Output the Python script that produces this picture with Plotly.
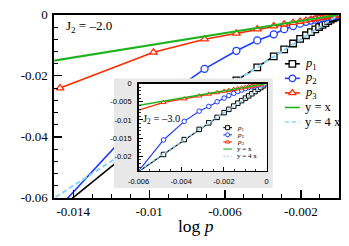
import numpy as np
import plotly.graph_objects as go

W, H = 349, 246

# ---------------- data: main panel (J2 = -2.0) ----------------
LOG_P_MAIN = [-0.0147, -0.00977, -0.00708, -0.0054, -0.0043, -0.00343, -0.00288,
              -0.00241, -0.00204, -0.00173, -0.00147, -0.00124, -0.00104, -0.00086,
              -0.0007, -0.00056, -0.00043, -0.00031, -0.0002, -0.0001, 0.0]
P1_MAIN = [-0.0634, -0.0385, -0.0283, -0.0215, -0.0172, -0.0136, -0.0113,
           -0.0094, -0.0079, -0.0067, -0.0057, -0.0048, -0.0040, -0.0033,
           -0.0027, -0.0021, -0.0016, -0.0012, -0.0008, -0.0004, 0.0]
P2_MAIN = [-0.0628, -0.0296, -0.0177, -0.0118, -0.0084, -0.0064, -0.0047,
           -0.0037, -0.0029, -0.0023, -0.0019, -0.0016, -0.0013, -0.00105,
           -0.00085, -0.00067, -0.0005, -0.00036, -0.00023, -0.00011, 0.0]
P3_MAIN = [-0.0240, -0.0123, -0.0080, -0.0061, -0.0047, -0.0037, -0.0031,
           -0.0026, -0.0022, -0.00185, -0.00157, -0.00132, -0.0011, -0.00091,
           -0.00074, -0.00059, -0.00045, -0.00033, -0.00021, -0.0001, 0.0]

# ---------------- data: inset (J2 = -3.0) ----------------
LOG_P_INSET = [-0.0062, -0.00483, -0.00386, -0.00316, -0.00271, -0.00232, -0.00199,
               -0.00177, -0.00154, -0.00135, -0.00117, -0.00099, -0.00084, -0.00069,
               -0.00054, -0.0004, -0.00027, -0.00014, 0.0]
P1_INSET = [-0.0250, -0.0195, -0.0154, -0.0126, -0.0108, -0.0093, -0.0080,
            -0.0071, -0.0062, -0.0054, -0.0047, -0.0040, -0.0034, -0.0028,
            -0.0022, -0.0016, -0.0011, -0.0006, 0.0]
P2_INSET = [-0.0255, -0.0155, -0.0104, -0.0076, -0.0063, -0.0050, -0.0040,
            -0.0033, -0.0027, -0.0022, -0.0018, -0.0014, -0.0011, -0.00085,
            -0.00062, -0.00045, -0.0003, -0.00015, 0.0]
P3_INSET = [-0.0077, -0.0052, -0.0042, -0.0034, -0.0029, -0.0025, -0.0021,
            -0.0019, -0.0016, -0.0014, -0.0012, -0.0010, -0.00087, -0.00071,
            -0.00056, -0.00041, -0.00028, -0.00014, 0.0]

# reference lines y = x and y = 4x
REF_X = [-0.016, 0.0]
REF_Y_X = [-0.016, 0.0]
REF_Y_4X = [-0.064, 0.0]

# ticks
MAIN_XTICKS = [-0.014, -0.01, -0.006, -0.002]
MAIN_XTICKTEXT = ["-0.014", "-0.01", "-0.006", "-0.002"]
MAIN_YTICKS = [0.0, -0.02, -0.04, -0.06]
MAIN_YTICKTEXT = ["0", "-0.02", "-0.04", "-0.06"]
INSET_XTICKS = [-0.006, -0.004, -0.002, 0.0]
INSET_XTICKTEXT = ["-0.006", "-0.004", "-0.002", "0"]
INSET_YTICKS = [0.0, -0.005, -0.01, -0.015, -0.02]
INSET_YTICKTEXT = ["0", "-0.005", "-0.01", "-0.015", "-0.02"]

LEGEND_NAMES = ["<i>p</i><sub>1</sub>", "<i>p</i><sub>2</sub>", "<i>p</i><sub>3</sub>",
                "y = x", "y = 4 x"]
MAIN_LABEL = "J<sub>2</sub> = \u20132.0"
INSET_LABEL = "J<sub>2</sub> = \u20133.0"
XLABEL = "log <i>p</i>"

# ---------------- styles ----------------
BLACK = "#000000"
BLUE = "#1f3dff"
RED = "#ff2a00"
GREEN = "#1db31d"
LBLUE = "#86d6f7"
GRAYBOX = "#e8e8e8"
SERIF = "Liberation Serif"
SANS = "Liberation Sans"

STYLES = [
    dict(color=BLACK, symbol="square", dash="solid", marker=True),
    dict(color=BLUE, symbol="circle", dash="solid", marker=True),
    dict(color=RED, symbol="triangle-up", dash="solid", marker=True),
    dict(color=GREEN, symbol=None, dash="solid", marker=False),
    dict(color=LBLUE, symbol=None, dash="dashed", marker=False),
]


def dom_x(a, b):
    return [a / W, b / W]


def dom_y(top, bottom):
    return [1 - bottom / H, 1 - top / H]


fig = go.Figure()

# ---------- main panel ----------
main_series = [P1_MAIN, P2_MAIN, P3_MAIN]
for vals, st in zip(main_series, STYLES[:3]):
    fig.add_trace(go.Scatter(
        x=LOG_P_MAIN, y=vals, mode="lines+markers", xaxis="x", yaxis="y",
        line=dict(color=st["color"], width=1.6),
        marker=dict(symbol=st["symbol"], size=7 if st["symbol"] != "square" else 6.5,
                    color="white", line=dict(color=st["color"], width=1.3)),
        showlegend=False, hoverinfo="skip"))
fig.add_trace(go.Scatter(x=REF_X, y=REF_Y_X, mode="lines", xaxis="x", yaxis="y",
                         line=dict(color=GREEN, width=2), showlegend=False, hoverinfo="skip"))
fig.add_trace(go.Scatter(x=REF_X, y=REF_Y_4X, mode="lines", xaxis="x", yaxis="y",
                         line=dict(color=LBLUE, width=2, dash="5px,3px"),
                         showlegend=False, hoverinfo="skip"))

# ---------- gray frame behind inset (own subplot, drawn above main traces) ----------
fig.add_trace(go.Scatter(x=[0, 1, 1, 0, 0], y=[0, 0, 1, 1, 0], mode="lines",
                         fill="toself", fillcolor=GRAYBOX, line=dict(width=0, color=GRAYBOX),
                         xaxis="x2", yaxis="y2", showlegend=False, hoverinfo="skip"))

# ---------- inset ----------
fig.add_trace(go.Scatter(x=[-1, 1, 1, -1, -1], y=[-1, -1, 1, 1, -1], mode="lines",
                         fill="toself", fillcolor="white", line=dict(width=0, color="white"),
                         xaxis="x3", yaxis="y3", showlegend=False, hoverinfo="skip"))
inset_series = [P1_INSET, P2_INSET, P3_INSET]
for vals, st in zip(inset_series, STYLES[:3]):
    fig.add_trace(go.Scatter(
        x=LOG_P_INSET, y=vals, mode="lines+markers", xaxis="x3", yaxis="y3",
        line=dict(color=st["color"], width=1.2),
        marker=dict(symbol=st["symbol"], size=4.5, color="white",
                    line=dict(color=st["color"], width=1)),
        showlegend=False, hoverinfo="skip"))
fig.add_trace(go.Scatter(x=REF_X, y=REF_Y_X, mode="lines", xaxis="x3", yaxis="y3",
                         line=dict(color=GREEN, width=1.4), showlegend=False, hoverinfo="skip"))
fig.add_trace(go.Scatter(x=REF_X, y=REF_Y_4X, mode="lines", xaxis="x3", yaxis="y3",
                         line=dict(color=LBLUE, width=1.4, dash="3px,2px"),
                         showlegend=False, hoverinfo="skip"))

# ---------- hand-drawn legends on a pixel overlay subplot ----------
annotations = []


def add_legend(x0, x1, xtext, row0, dy, lw, msize, mlw, font, dash_pat):
    xc = (x0 + x1) / 2
    for i, (name, st) in enumerate(zip(LEGEND_NAMES, STYLES)):
        yy = row0 + i * dy
        dash = "solid" if st["dash"] == "solid" else dash_pat
        fig.add_trace(go.Scatter(x=[x0, x1], y=[yy, yy], mode="lines", xaxis="x4", yaxis="y4",
                                 line=dict(color=st["color"], width=lw, dash=dash),
                                 showlegend=False, hoverinfo="skip"))
        if st["marker"]:
            fig.add_trace(go.Scatter(x=[xc], y=[yy], mode="markers", xaxis="x4", yaxis="y4",
                                     marker=dict(symbol=st["symbol"], size=msize, color="white",
                                                 line=dict(color=st["color"], width=mlw)),
                                     showlegend=False, hoverinfo="skip"))
        annotations.append(dict(x=xtext, y=yy, xref="x4", yref="y4", text=name,
                                showarrow=False, xanchor="left", yanchor="middle",
                                font=font))


add_legend(284.5, 300, 303, 60.5, 15.5, 1.6, 6.5, 1.3,
           dict(family=SERIF, size=12.5, color=BLACK), "4px,3px")
add_legend(220.5, 229.5, 232.5, 128.5, 7.6, 1.1, 4, 1,
           dict(family=SERIF, size=7, color=BLACK), "2px,2px")

annotations.append(dict(x=55, y=21, xref="x4", yref="y4", text=MAIN_LABEL, showarrow=False,
                        xanchor="left", yanchor="middle",
                        font=dict(family=SERIF, size=13, color=BLACK)))
annotations.append(dict(x=135, y=120, xref="x4", yref="y4", text=INSET_LABEL, showarrow=False,
                        xanchor="left", yanchor="middle",
                        font=dict(family=SERIF, size=10.5, color=BLACK)))
annotations.append(dict(x=192.5, y=233, xref="x4", yref="y4", text=XLABEL, showarrow=False,
                        xanchor="center", yanchor="middle",
                        font=dict(family=SERIF, size=17.5, color=BLACK)))

main_axis_common = dict(showline=True, linewidth=2, linecolor=BLACK, mirror=True,
                        ticks="inside", ticklen=8, tickwidth=1.3, tickcolor=BLACK,
                        showgrid=False, zeroline=False, tickmode="array",
                        tickfont=dict(family=SERIF, size=13, color=BLACK))
inset_axis_common = dict(showline=True, linewidth=1.5, linecolor=BLACK, mirror=True,
                         ticks="inside", ticklen=4, tickwidth=1, tickcolor=BLACK,
                         showgrid=False, zeroline=False, tickmode="array",
                         tickfont=dict(family=SANS, size=7.5, color=BLACK))
hidden = dict(visible=False, showgrid=False, zeroline=False, fixedrange=True)

fig.update_layout(
    width=W, height=H,
    margin=dict(l=0, r=0, t=0, b=0),
    paper_bgcolor="white", plot_bgcolor="rgba(0,0,0,0)",
    showlegend=False,
    xaxis=dict(domain=dom_x(45, 340.5), range=[-0.015, 0], anchor="y",
               tickvals=MAIN_XTICKS, ticktext=MAIN_XTICKTEXT, ticklabelstandoff=0,
               minor=dict(tickvals=list(np.round(np.arange(-0.015, 0.00001, 0.001), 4)),
                          ticks="inside", ticklen=4, tickwidth=1, tickcolor=BLACK, showgrid=False),
               **main_axis_common),
    yaxis=dict(domain=dom_y(8.3, 203.3), range=[-0.06, 0], anchor="x",
               tickvals=MAIN_YTICKS, ticktext=MAIN_YTICKTEXT, ticklabelstandoff=2,
               minor=dict(tickvals=list(np.round(np.arange(-0.06, 0.00001, 0.004), 4)),
                          ticks="inside", ticklen=4, tickwidth=1, tickcolor=BLACK, showgrid=False),
               **main_axis_common),
    xaxis2=dict(domain=dom_x(107, 272), range=[0, 1], anchor="y2", **hidden),
    yaxis2=dict(domain=dom_y(76, 193), range=[0, 1], anchor="x2", **hidden),
    xaxis3=dict(domain=dom_x(132.5, 265.5), range=[-0.006, 0], anchor="y3",
                tickvals=INSET_XTICKS, ticktext=INSET_XTICKTEXT, ticklabelstandoff=3,
                minor=dict(tickvals=list(np.round(np.arange(-0.006, 0.00001, 0.0005), 5)),
                           ticks="inside", ticklen=2, tickwidth=0.8, tickcolor=BLACK, showgrid=False),
                **inset_axis_common),
    yaxis3=dict(domain=dom_y(81.5, 174.5), range=[-0.024, 0], anchor="x3",
                tickvals=INSET_YTICKS, ticktext=INSET_YTICKTEXT, ticklabelstandoff=4,
                minor=dict(tickvals=list(np.round(np.arange(-0.024, 0.00001, 0.001), 4)),
                           ticks="inside", ticklen=2, tickwidth=0.8, tickcolor=BLACK, showgrid=False),
                **inset_axis_common),
    xaxis4=dict(domain=[0, 1], range=[0, W], anchor="y4", **hidden),
    yaxis4=dict(domain=[0, 1], range=[H, 0], anchor="x4", **hidden),
    annotations=annotations,
)

fig.write_html("out.html",
               config={"displayModeBar": False, "staticPlot": True},
               post_script="document.body.style.margin='0';document.body.style.padding='0';"
                           "document.documentElement.style.overflow='hidden';")
